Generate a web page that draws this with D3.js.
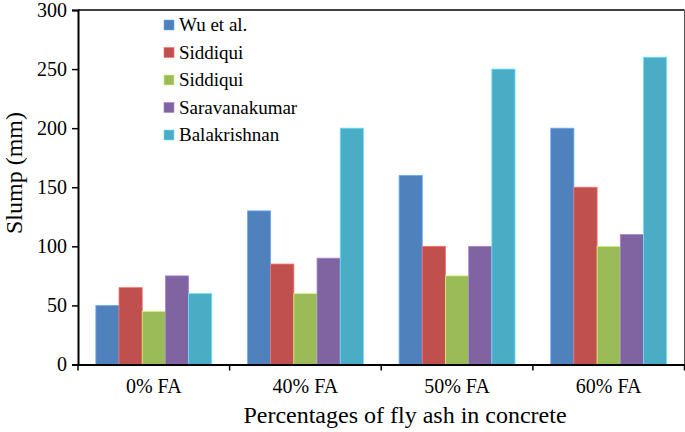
<!DOCTYPE html>
<html><head><meta charset="utf-8">
<script src="https://cdn.jsdelivr.net/npm/d3@7"></script>
<style>body{margin:0;background:#fff;} svg{display:block;} svg text{font-family:"Liberation Serif","Times New Roman","Tinos","DejaVu Serif","Noto Serif",serif;}</style>
</head><body>
<svg id="c" width="685" height="432"></svg>
<script>
const categories = ["0% FA", "40% FA", "50% FA", "60% FA"];
const seriesNames = ["Wu et al.", "Siddiqui", "Siddiqui", "Saravanakumar", "Balakrishnan"];
const wuEtAl = [50, 130, 160, 200];
const siddiqui1 = [65, 85, 100, 150];
const siddiqui2 = [45, 60, 75, 100];
const saravanakumar = [75, 90, 100, 110];
const balakrishnan = [60, 200, 250, 260];
const colors = ["#4F81BD", "#C0504D", "#9BBB59", "#8064A2", "#4BACC6"];
const yTicks = [0, 50, 100, 150, 200, 250, 300];

const seriesValues = [wuEtAl, siddiqui1, siddiqui2, saravanakumar, balakrishnan];
const svg = d3.select("#c");
const L = 78, R = 684.5, T = 10, B = 364.5;

const x0 = d3.scaleBand().domain(categories).range([L, R]).paddingInner(0).paddingOuter(0);
const x1 = d3.scaleBand().domain(d3.range(5)).range([0, x0.bandwidth()]).paddingInner(0).paddingOuter(0.77);
const y = d3.scaleLinear().domain([0, 300]).range([B, T]);

// plot border (top, right)
svg.append("line").attr("x1", L).attr("x2", R).attr("y1", T).attr("y2", T).attr("stroke", "#000").attr("stroke-width", 1.5);
svg.append("line").attr("x1", R).attr("x2", R).attr("y1", T).attr("y2", B).attr("stroke", "#555").attr("stroke-width", 1);

// bars
const g = svg.append("g");
categories.forEach((c, ci) => {
  seriesValues.forEach((vals, si) => {
    g.append("rect")
      .attr("x", x0(c) + x1(si))
      .attr("y", y(vals[ci]))
      .attr("width", x1.bandwidth())
      .attr("height", y(0) - y(vals[ci]))
      .attr("fill", colors[si])
      .attr("stroke", d3.color(colors[si]).brighter(0.8))
      .attr("stroke-width", 0.8);
  });
});

// y axis
const yAxis = svg.append("g").attr("transform", `translate(${L},0)`)
  .call(d3.axisLeft(y).tickValues(yTicks).tickSize(6).tickPadding(5));
yAxis.attr("font-family", null);
yAxis.select(".domain").attr("stroke", "#000").attr("stroke-width", 2);
yAxis.selectAll(".tick line").attr("stroke", "#000").attr("stroke-width", 1.5);
yAxis.selectAll("text").style("font-size", "20px").attr("fill", "#000");

// x axis
const xAxis = svg.append("g").attr("transform", `translate(0,${B})`)
  .call(d3.axisBottom(x0).tickSize(0).tickPadding(14));
xAxis.attr("font-family", null);
xAxis.select(".domain").attr("stroke", "#000").attr("stroke-width", 2);
xAxis.selectAll("text").style("font-size", "20px").attr("fill", "#000");
// boundary ticks
const bounds = categories.map(c => x0(c)).concat([R]);
svg.append("g").selectAll("line").data(bounds).join("line")
  .attr("x1", d => d).attr("x2", d => d).attr("y1", B).attr("y2", B + 6)
  .attr("stroke", "#000").attr("stroke-width", 1.5);

// axis titles
svg.append("text").attr("x", 405).attr("y", 423).attr("text-anchor", "middle")
  .style("font-size", "24px").attr("fill", "#000")
  .text("Percentages of fly ash in concrete");
svg.append("text").attr("transform", `translate(22,173) rotate(-90)`).attr("text-anchor", "middle")
  .style("font-size", "24px").attr("fill", "#000")
  .text("Slump (mm)");

// legend
const lg = svg.append("g");
seriesNames.forEach((n, i) => {
  const yy = 25 + i * 27.5;
  lg.append("rect").attr("x", 164).attr("y", yy - 5).attr("width", 10).attr("height", 10).attr("fill", colors[i])
    .attr("stroke", d3.color(colors[i]).brighter(0.8)).attr("stroke-width", 0.6);
  lg.append("text").attr("x", 179).attr("y", yy + 6).style("font-size", "19px").attr("fill", "#000").text(n);
});
</script>
</body></html>
